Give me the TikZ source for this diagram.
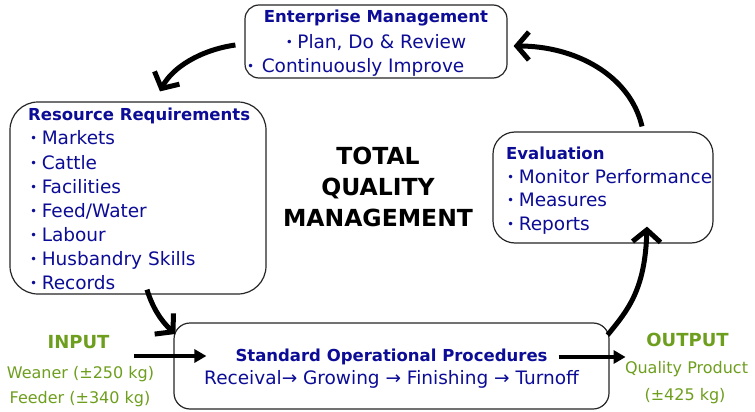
\documentclass[tikz,border=0pt]{standalone}
\usepackage{fontspec}
\setmainfont{DejaVu Sans}
\usetikzlibrary{arrows.meta}
\definecolor{navy}{RGB}{12,12,150}
\definecolor{leaf}{RGB}{110,158,30}
% small raised list bullet followed by a space
\newcommand{\bul}{{\fontsize{12}{12}\selectfont\raisebox{2.5pt}{•}}\hspace{4.5pt}}

\begin{document}
\begin{tikzpicture}[x=1pt,y=-1pt,
  panel/.style={draw=black!85, line width=1.2pt, fill=white, inner sep=0pt, rounded corners=#1},
  ttl/.style={font=\fontsize{16.5}{18}\selectfont\bfseries, text=navy, inner sep=0pt, anchor=base west},
  item/.style={font=\fontsize{18.5}{20}\selectfont, text=navy, inner sep=0pt, anchor=base west},
  big/.style={font=\fontsize{23.5}{26}\selectfont\bfseries, text=black, inner sep=0pt, anchor=base},
  iohead/.style={font=\fontsize{18}{20}\selectfont\bfseries, text=leaf, inner sep=0pt, anchor=base},
  iotext/.style={font=\fontsize{16}{18}\selectfont, text=leaf, inner sep=0pt, anchor=base},
  cycle/.style={line width=5pt, -{Straight Barb[length=12pt,width=28pt,line width=5pt]}},
  flow/.style={line width=4pt, -{Triangle[length=12pt,width=13pt]}}]

\useasboundingbox (0,0) rectangle (755,412);

% boxes
\node[panel=14pt, minimum width=262pt, minimum height=73pt] (ent) at (376,41.5) {};
\node[panel=28pt, minimum width=256pt, minimum height=192pt] (res) at (138,198) {};
\node[panel=22pt, minimum width=220pt, minimum height=111pt] (eva) at (603,187.5) {};
\node[panel=16pt, minimum width=435pt, minimum height=86pt] (sop) at (391.5,366) {};

% Enterprise Management
\node[ttl, anchor=base] (entT) at (376,23) {Enterprise Management};
\node[item, anchor=base] (ent1) at (376,48.7) {\bul Plan, Do \& Review};
\node[item] (ent2) at (247,72.7) {\bul\hspace{3pt}Continuously Improve};

% Resource Requirements
\node[ttl] (resT) at (28,121) {Resource Requirements};
\node[item] (res1) at (30,144.7) {\bul Markets};
\node[item] (res2) at (30,169.7) {\bul Cattle};
\node[item] (res3) at (30,193.7) {\bul Facilities};
\node[item] (res4) at (30,217.7) {\bul Feed/Water};
\node[item] (res5) at (30,241.7) {\bul Labour};
\node[item] (res6) at (30,265.7) {\bul Husbandry Skills};
\node[item] (res7) at (30,289.7) {\bul Records};

% Evaluation
\node[ttl] (evaT) at (506,159) {Evaluation};
\node[item] (eva1) at (507,183.7) {\bul Monitor Performance};
\node[item] (eva2) at (507,206.7) {\bul Measures};
\node[item] (eva3) at (507,230.7) {\bul Reports};

% Standard Operational Procedures
\node[ttl, anchor=base] (sopT) at (391.5,361) {Standard Operational Procedures};
\node[item, anchor=base] (sop1) at (391.5,384.7) {Receival→ Growing → Finishing → Turnoff};

% centre title
\node[big] (tq1) at (378,164.5) {TOTAL};
\node[big] (tq2) at (378,195.5) {QUALITY};
\node[big] (tq3) at (378,226.5) {MANAGEMENT};

% input / output
\node[iohead] (inH) at (78.5,348.5) {INPUT};
\node[iotext] (in1) at (80.5,378.8) {Weaner (±250 kg)};
\node[iotext] (in2) at (80,403.8) {Feeder (±340 kg)};
\node[iohead] (outH) at (687.5,346.5) {OUTPUT};
\node[iotext] (out1) at (686.5,373.8) {Quality Product};
\node[iotext] (out2) at (685,400.8) {(±425 kg)};

% arrow end points
\coordinate (c1s) at ([shift={(-9,3.5)}]ent.west);
\coordinate (c1e) at ([shift={(22,-10)}]res.north);
\coordinate (c2s) at ([shift={(9,-5)}]res.south);
\coordinate (c2e) at ([shift={(2,-32)}]sop.west);
\coordinate (c3s) at ([shift={(-2,-31)}]sop.east);
\coordinate (c3e) at ([shift={(44,-17)}]eva.south);
\coordinate (c4s) at ([shift={(39,-5)}]eva.north);
\coordinate (c4e) at ([shift={(6,4.5)}]ent.east);
\coordinate (inS) at ([shift={(-39,-10)}]sop.west);
\coordinate (inE) at ([shift={(33,-10)}]sop.west);
\coordinate (outS) at ([shift={(-51,-9)}]sop.east);
\coordinate (outE) at ([shift={(16,-9)}]sop.east);

% cycle arrows
\draw[cycle] (c1s) .. controls (200,50) and (172,68) .. (c1e);
\draw[cycle] (c2s) .. controls (152,306) and (160,320) .. (c2e);
\draw[cycle] (c3s) .. controls (628,310) and (645,290) .. (c3e);
\draw[cycle] (c4s) .. controls (630,75) and (575,46) .. (c4e);

% flow arrows
\draw[flow] (inS) -- (inE);
\draw[flow] (outS) -- (outE);
\end{tikzpicture}
\end{document}
